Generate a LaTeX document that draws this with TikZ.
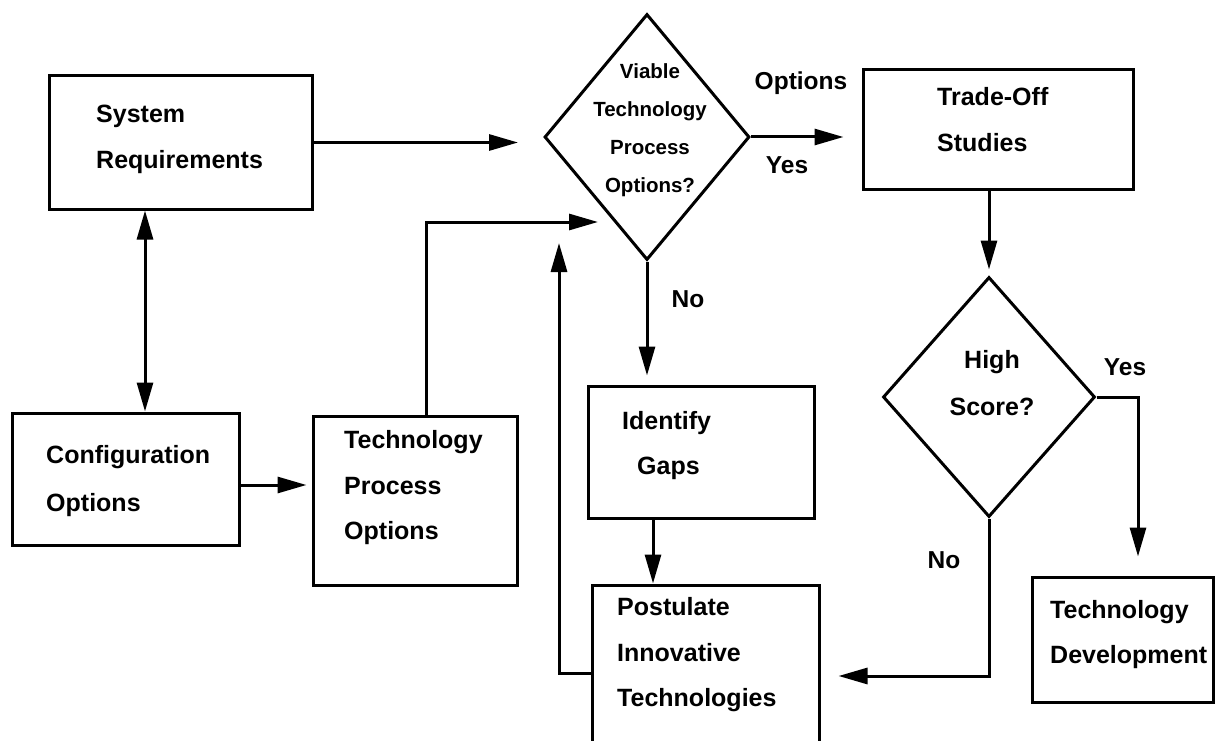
\documentclass[tikz,border=0pt]{standalone}
\usepackage{fontspec}
\setmainfont{Liberation Sans}
\usetikzlibrary{arrows.meta,shapes.geometric,calc}
\begin{document}
\begin{tikzpicture}[x=1pt,y=-1pt,
  box/.style={draw, line width=3pt, rectangle, inner sep=0pt},
  dia/.style={draw, line width=3pt, diamond, inner sep=0pt},
  txt/.style={font=\fontsize{25}{45.5}\selectfont\bfseries, align=left, inner sep=0pt, anchor=west},
  dtxt/.style={font=\fontsize{20.5}{38}\selectfont\bfseries, align=center, inner sep=0pt},
  lbl/.style={font=\fontsize{24.5}{30}\selectfont\bfseries, inner sep=0pt},
  arr/.style={line width=3pt, -{Triangle[length=29pt,width=16pt]}},
  darr/.style={line width=3pt, {Triangle[length=29pt,width=16pt]}-{Triangle[length=29pt,width=16pt]}}]
\useasboundingbox (0,0) rectangle (1216,741);
\clip (0,0) rectangle (1216,741);
\fill[white] (0,0) rectangle (1216,741);
% boxes
\node[box, minimum width=263pt, minimum height=133pt] (sr) at (180.5,142.5) {};
\node[box, minimum width=227pt, minimum height=132pt] (co) at (125.5,479) {};
\node[box, minimum width=204pt, minimum height=169pt] (tp) at (415,500.5) {};
\node[box, minimum width=226pt, minimum height=132pt] (ig) at (701,452) {};
\node[box, minimum width=227pt, minimum height=185pt] (pi) at (705.5,677.5) {};
\node[box, minimum width=270pt, minimum height=120pt] (ts) at (998,130) {};
\node[box, minimum width=181pt, minimum height=125pt] (td) at (1122.5,639.5) {};
% diamonds
\node[dia, minimum width=205pt, minimum height=246pt] (d1) at (647,137) {};
\node[dia, minimum width=212pt, minimum height=240pt] (d2) at (989,397) {};
% texts
\node[txt] (srT) at (96,139.5) {System\\Requirements};
\node[txt, font=\fontsize{25}{48}\selectfont\bfseries] (coT) at (46,481.5) {Configuration\\Options};
\node[txt] (tpT) at (344,488) {Technology\\Process\\Options};
\node[txt] (igT) at (622,445.5) {Identify\\\hspace*{15pt}Gaps};
\node[txt] (piT) at (617,655) {Postulate\\Innovative\\Technologies};
\node[txt] (tsT) at (937,119.5) {Trade-Off\\Studies};
\node[txt] (tdT) at (1050,634.5) {Technology\\Development};
\node[dtxt] (d1T) at (650,130.5) {Viable\\Technology\\Process\\Options?};
\node[txt, align=center, anchor=center, font=\fontsize{25}{47}\selectfont\bfseries] (d2T) at (992,383.5) {High\\Score?};
% connectors
\coordinate (xdbl) at (145,0);
\coordinate (in1) at (598,222);
\coordinate (up1) at (559,243);
\coordinate (xig) at (653,0);
\coordinate (xyes) at (1138,0);
\draw[arr, shorten >=25pt] (sr.east) -- (sr.east -| d1.west);
\draw[darr] (sr.south -| xdbl) -- (co.north -| xdbl);
\draw[arr, shorten >=5pt] (co.east |- 0,485) -- (tp.west |- 0,485);
\draw[arr] (tp.north -| 426,0) |- (in1);
\draw[arr, shorten >=18pt] (d1.east) -- (d1.east -| ts.west);
\draw[arr, shorten >=9pt] (d1.south) -- (d1.south |- ig.north);
\draw[arr] (ig.south -| xig) -- (pi.north -| xig);
\draw[arr] (pi.west |- 0,673) -| (up1);
\draw[arr, shorten >=6pt] (ts.south -| d2.north) -- (d2.north);
\draw[arr, shorten >=19pt] (d2.east) -| (td.north -| xyes);
\draw[arr, shorten >=18pt] (d2.south) |- (pi.east |- 0,676);
% labels
\node[lbl] (lopt) at (801,83) {Options};
\node[lbl] (lyes1) at (787,165) {Yes};
\node[lbl] (lno1) at (688,299) {No};
\node[lbl] (lyes2) at (1125,367) {Yes};
\node[lbl] (lno2) at (944,560) {No};
\end{tikzpicture}
\end{document}
